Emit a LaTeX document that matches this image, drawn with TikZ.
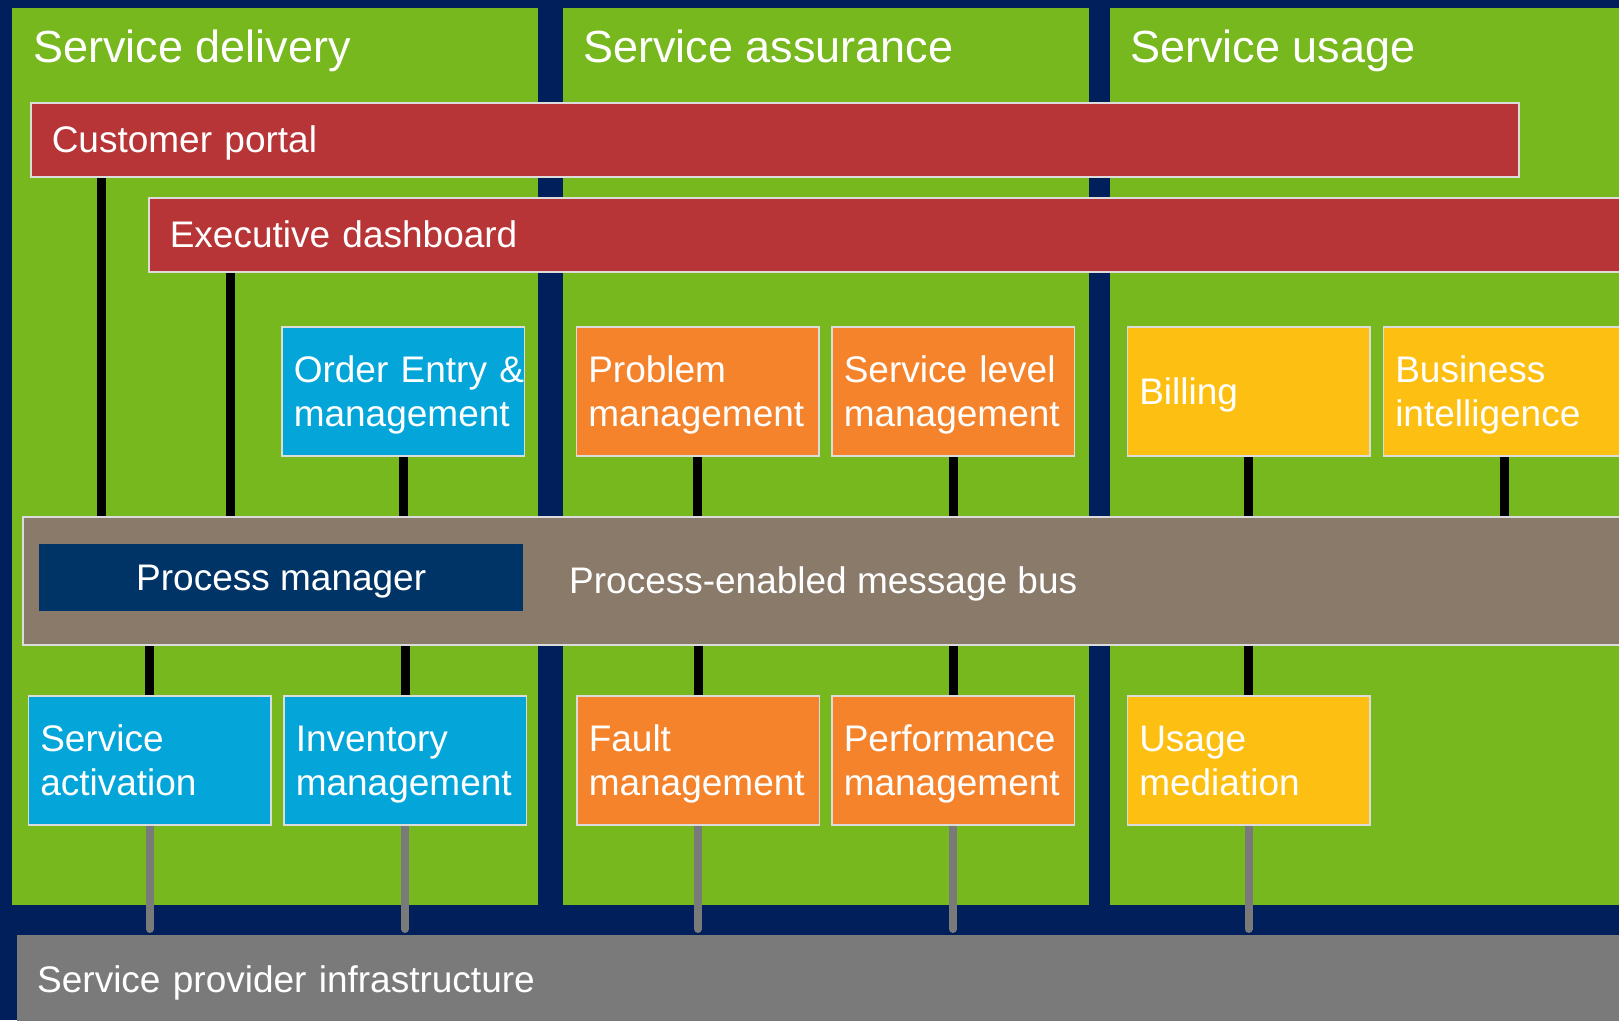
\documentclass[tikz,border=0pt]{standalone}
\usepackage{fontspec}
\setmainfont{Liberation Sans}
\usetikzlibrary{positioning}
\usetikzlibrary{backgrounds}
\definecolor{bgnavy}{RGB}{0,31,91}
\definecolor{panelgreen}{RGB}{119,184,30}
\definecolor{barred}{RGB}{184,53,55}
\definecolor{boxblue}{RGB}{4,166,217}
\definecolor{boxorange}{RGB}{245,131,44}
\definecolor{boxyellow}{RGB}{253,191,18}
\definecolor{busbrown}{RGB}{138,122,106}
\definecolor{pmnavy}{RGB}{0,51,102}
\definecolor{infragray}{RGB}{122,122,122}
\definecolor{rim}{RGB}{220,220,220}
\pgfdeclarelayer{back}
\pgfdeclarelayer{links}
\pgfsetlayers{back,links,main}

\begin{document}
\begin{tikzpicture}[x=1pt,y=-1pt,
	title/.style={anchor=base west,inner sep=0pt,text=white,font=\fontsize{45}{54}\selectfont},
	bar/.style={anchor=north west,draw=rim,line width=1.5pt,fill=barred,text=white,
		font=\fontsize{37}{44}\selectfont,inner xsep=21pt,inner ysep=24pt,
		text height=26pt,text depth=0pt,align=left},
	box/.style={anchor=north west,draw=rim,line width=1.5pt,text=white,
		font=\fontsize{37}{44.3}\selectfont,inner xsep=12pt,inner ysep=0pt,
		text width=218.5pt,minimum height=129pt,align=left,
		text height=27pt,text depth=44.3pt},
	oneline/.style={text height=26pt,text depth=0pt},
	link/.style={line width=9pt,black},
	wire/.style={line width=8pt,infragray,line cap=round,shorten >=6pt}]
	\useasboundingbox (0,0) rectangle (1619,1020);
	\begin{pgfonlayer}{back}
	\fill[bgnavy] (0,0) rectangle (1619,1020);
	\fill[panelgreen] (12,8) rectangle (538,905);
	\fill[panelgreen] (563,8) rectangle (1089,905);
	\fill[panelgreen] (1110,8) rectangle (1619,905);
	\end{pgfonlayer}

	\node[title] (tdel) at (33,62) {Service delivery};
	\node[title] (tass) at (583,62) {Service assurance};
	\node[title] (tuse) at (1130,62) {Service usage};

	\node[bar,text width=1446pt] (portal) at (30,102) {Customer portal};
	\node[bar,text width=1560pt] (dash) at (148,197) {Executive dashboard};

	\node[box,fill=boxblue] (order) at (281,326) {\mbox{Order Entry \&}\\management};
	\node[box,fill=boxorange] (problem) at (575.5,326) {Problem\\management};
	\node[box,fill=boxorange] (slm) at (831,326) {Service level\\management};
	\node[box,oneline,fill=boxyellow] (billing) at (1126.5,326) {Billing};
	\node[box,fill=boxyellow] (bi) at (1382.5,326) {Business\\intelligence};

	\node[anchor=north west,draw=rim,line width=1.5pt,fill=busbrown,
		minimum width=1650pt,minimum height=128pt] (bus) at (22,516) {};
	\node[anchor=north west,fill=pmnavy,text=white,minimum width=484pt,minimum height=67pt,
		font=\fontsize{37}{44}\selectfont,text height=26pt,text depth=0pt] (pm) at (39,544) {Process manager};
	\node[anchor=base west,inner sep=0pt,text=white,font=\fontsize{37}{44}\selectfont]
		(buslabel) at (569,593) {Process-enabled message bus};

	\node[box,fill=boxblue] (activation) at (27.5,695) {Service\\activation};
	\node[box,fill=boxblue] (inventory) at (283,695) {Inventory\\management};
	\node[box,fill=boxorange] (fault) at (576,695) {Fault\\management};
	\node[box,fill=boxorange] (perf) at (831,695) {Performance\\management};
	\node[box,fill=boxyellow] (mediation) at (1126.5,695) {Usage\\mediation};

	\node[anchor=north west,fill=infragray,text=white,font=\fontsize{37}{44}\selectfont,
		inner xsep=20pt,inner ysep=31pt,text height=26pt,text depth=0pt,
		text width=1700pt,align=left] (infra) at (17,935) {Service provider infrastructure};

	% drops into the bus and down to the infrastructure
	\coordinate (pdrop) at ([xshift=71pt]portal.south west);
	\coordinate (ddrop) at ([xshift=82pt]dash.south west);
	\begin{pgfonlayer}{links}
	\draw[link] (pdrop) -- (pdrop |- bus.north);
	\draw[link] (ddrop) -- (ddrop |- bus.north);
	\foreach \n in {order,problem,slm,billing,bi}
		\draw[link] (\n.south) -- (\n.south |- bus.north);
	\foreach \n in {activation,inventory,fault,perf,mediation} {
		\draw[link] (bus.south -| \n.north) -- (\n.north);
		\draw[wire] (\n.south) -- (\n.south |- infra.north);
	}
	\end{pgfonlayer}
\end{tikzpicture}
\end{document}
